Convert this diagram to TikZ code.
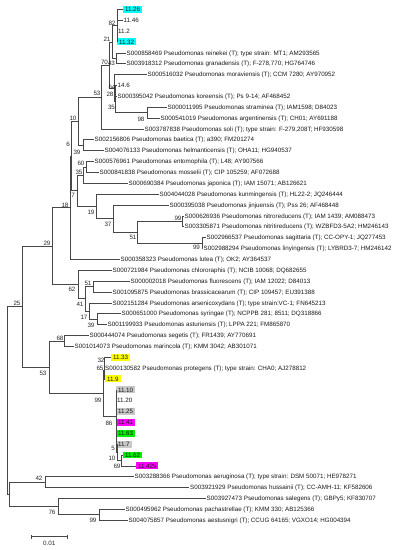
\documentclass[tikz,border=0pt]{standalone}
\usepackage{fontspec}
\setmainfont{Liberation Sans}
\definecolor{hcyan}{HTML}{00FFFF}
\definecolor{hyel}{HTML}{FFFF00}
\definecolor{hgray}{HTML}{C8C8C8}
\definecolor{hmag}{HTML}{FF00FF}
\definecolor{hgrn}{HTML}{00EE00}
\pgfmathdeclarefunction{rw}{1}{\pgfmathparse{9.3+10.87*(#1-1)}}
\tikzset{
  br/.style={draw=black!72, line width=0.55pt},
  lf/.style={anchor=west, inner xsep=1pt, inner ysep=1.2pt, text height=4.5pt, text depth=0pt, text=black!90},
  hl/.style={lf, inner xsep=1.8pt, fill=#1},
  bs/.style={inner sep=0pt, text=black!85},
}
\begin{document}
\begin{tikzpicture}[x=1pt,y=-1pt,font=\fontsize{6.25}{7}\selectfont]
\useasboundingbox (0,0) rectangle (398,550);
% leaves
\node[hl=hcyan] (l1) at (123,{rw(1)}) {11.26};
\node[lf] (l2) at (122.5,{rw(2)}) {11.46};
\node[lf] (l3) at (117,{rw(3)}) {11.2};
\node[hl=hcyan] (l4) at (117,{rw(4)}) {11.32};
\node[lf] (l5) at (125.5,{rw(5)}) {S000858469 Pseudomonas reinekei (T); type strain: MT1; AM293565};
\node[lf] (l6) at (125.5,{rw(6)}) {S003918312 Pseudomonas granadensis (T); F-278,770; HG764746};
\node[lf] (l7) at (146.5,{rw(7)}) {S000516032 Pseudomonas moraviensis (T); CCM 7280; AY970952};
\node[lf] (l8) at (116.5,{rw(8)}) {14.6};
\node[lf] (l9) at (116.5,{rw(9)}) {S000395042 Pseudomonas koreensis (T); Ps 9-14; AF468452};
\node[lf] (l10) at (166.5,{rw(10)}) {S000011995 Pseudomonas straminea (T); IAM1598; D84023};
\node[lf] (l11) at (159.5,{rw(11)}) {S000541019 Pseudomonas argentinensis (T); CH01; AY691188};
\node[lf] (l12) at (143.5,{rw(12)}) {S003787838 Pseudomonas soli (T); type strain: F-279,208T; HF930598};
\node[lf] (l13) at (93.5,{rw(13)}) {S002156806 Pseudomonas baetica (T); a390; FM201274};
\node[lf] (l14) at (103.5,{rw(14)}) {S004076133 Pseudomonas helmanticensis (T); OHA11; HG940537};
\node[lf] (l15) at (93.5,{rw(15)}) {S000576961 Pseudomonas entomophila (T); L48; AY907566};
\node[lf] (l16) at (98.5,{rw(16)}) {S000841838 Pseudomonas mosselii (T); CIP 105259; AF072688};
\node[lf] (l17) at (127.5,{rw(17)}) {S000690384 Pseudomonas japonica (T); IAM 15071; AB126621};
\node[lf] (l18) at (158.5,{rw(18)}) {S004044028 Pseudomonas kunmingensis (T); HL22-2; JQ246444};
\node[lf] (l19) at (168.5,{rw(19)}) {S000395038 Pseudomonas jinjuensis (T); Pss 26; AF468448};
\node[lf] (l20) at (183.5,{rw(20)}) {S000626936 Pseudomonas nitroreducens (T); IAM 1439; AM088473};
\node[lf] (l21) at (183.5,{rw(21)}) {S003305871 Pseudomonas nitritireducens (T); WZBFD3-5A2; HM246143};
\node[lf] (l22) at (205.5,{rw(22)}) {S002966537 Pseudomonas sagittaria (T); CC-OPY-1; JQ277453};
\node[lf] (l23) at (202.5,{rw(23)}) {S002988294 Pseudomonas linyingensis (T); LYBRD3-7; HM246142};
\node[lf] (l24) at (119.5,{rw(24)}) {S000358323 Pseudomonas lutea (T); OK2; AY364537};
\node[lf] (l25) at (111.5,{rw(25)}) {S000721984 Pseudomonas chlororaphis (T); NCIB 10068; DQ682655};
\node[lf] (l26) at (129.5,{rw(26)}) {S000002018 Pseudomonas fluorescens (T); IAM 12022; D84013};
\node[lf] (l27) at (111.5,{rw(27)}) {S001095875 Pseudomonas brassicacearum (T); CIP 109457; EU391388};
\node[lf] (l28) at (111.5,{rw(28)}) {S002151284 Pseudomonas arsenicoxydans (T); type strain:VC-1; FN645213};
\node[lf] (l29) at (120.5,{rw(29)}) {S000651000 Pseudomonas syringae (T); NCPPB 281; 8511; DQ318866};
\node[lf] (l30) at (106.5,{rw(30)}) {S001199933 Pseudomonas asturiensis (T); LPPA 221; FM865870};
\node[lf] (l31) at (88.5,{rw(31)}) {S000444074 Pseudomonas segetis (T); FR1439; AY770691};
\node[lf] (l32) at (73.5,{rw(32)}) {S001014073 Pseudomonas marincola (T); KMM 3042; AB301071};
\node[hl=hyel] (l33) at (111,{rw(33)}) {11.33};
\node[lf] (l34) at (104,{rw(34)}) {S000130582 Pseudomonas protegens (T); type strain: CHA0; AJ278812};
\node[hl=hyel] (l35) at (105,{rw(35)}) {11.9};
\node[hl=hgray] (l36) at (116,{rw(36)}) {11.10};
\node[lf] (l37) at (116,{rw(37)}) {11.20};
\node[hl=hgray] (l38) at (116,{rw(38)}) {11.25};
\node[hl=hmag] (l39) at (116,{rw(39)}) {11.41};
\node[hl=hgrn] (l40) at (116,{rw(40)}) {11.63};
\node[hl=hgray] (l41) at (116,{rw(41)}) {11.7};
\node[hl=hgrn] (l42) at (123,{rw(42)}) {11.62};
\node[hl=hmag] (l43) at (136,{rw(43)}) {11.429};
\node[lf] (l44) at (133.5,{rw(44)}) {S003288366 Pseudomonas aeruginosa (T); type strain: DSM 50071; HE978271};
\node[lf] (l45) at (189,{rw(45)}) {S003921929 Pseudomonas hussainii (T); CC-AMH-11; KF582606};
\node[lf] (l46) at (205.5,{rw(46)}) {S003927473 Pseudomonas salegens (T); GBPy5; KF830707};
\node[lf] (l47) at (124.5,{rw(47)}) {S000495962 Pseudomonas pachastrellae (T); KMM 330; AB125366};
\node[lf] (l48) at (127.5,{rw(48)}) {S004075857 Pseudomonas aestusnigri (T); CCUG 64165; VGXO14; HG004394};
% internal nodes
\coordinate (n82) at (117,25.6);
\coordinate (n43) at (116,58.2);
\coordinate (n21) at (112,41.9);
\coordinate (n64) at (115.5,90.8);
\coordinate (n98) at (147,112.6);
\coordinate (n28) at (115,101.7);
\coordinate (n35a) at (114,88.1);
\coordinate (n70) at (109,65.0);
\coordinate (n53a) at (101.5,96.9);
\coordinate (n39a) at (83,145.2);
\coordinate (n10) at (78,121.05);
\coordinate (n60) at (86,166.9);
\coordinate (n35b) at (83,175.1);
\coordinate (n99a) at (182.5,221.3);
\coordinate (n99b) at (202,243.0);
\coordinate (n51a) at (137,232.15);
\coordinate (n37) at (113,218.6);
\coordinate (n19) at (96,206.3);
\coordinate (n7) at (77,190.7);
\coordinate (n6) at (71,155.9);
\coordinate (n18) at (70,207.6);
\coordinate (n51b) at (93,286.5);
\coordinate (n39b) at (97,319.1);
\coordinate (n17) at (89,310.9);
\coordinate (n41) at (85,298.7);
\coordinate (n62) at (78,284.4);
\coordinate (n29) at (52,246.0);
\coordinate (n68) at (64,340.8);
\coordinate (n32) at (104.5,362.6);
\coordinate (n65) at (104,370.7);
\coordinate (n69) at (121,460.4);
\coordinate (n10b) at (117,452.25);
\coordinate (n5) at (116.5,442.7);
\coordinate (n86) at (116,416.2);
\coordinate (n99c) at (103,393.45);
\coordinate (n53b) at (49,367.1);
\coordinate (n25) at (22,306.55);
\coordinate (n42) at (45,482.1);
\coordinate (n99e) at (99,514.75);
\coordinate (n76) at (58,506.6);
\coordinate (nX) at (9.5,494.35);
\coordinate (root) at (7,400.45);
% branches
\foreach \a/\b in {n82/l1.west,n82/l2.west,n82/l3.west,n82/l4.west,
  n43/l5.west,n43/l6.west,n21/n82,n21/n43,
  n64/l8.west,n64/l9.west,n98/l10.west,n98/l11.west,n28/n64,n28/n98,
  n35a/l7.west,n35a/n28,n70/n21,n70/n35a,n53a/n70,n53a/l12.west,
  n39a/l13.west,n39a/l14.west,n10/n53a,n10/n39a,
  n60/l15.west,n60/l16.west,n35b/n60,n35b/l17.west,
  n99a/l20.west,n99a/l21.west,n99b/l22.west,n99b/l23.west,n51a/n99a,n51a/n99b,
  n37/l19.west,n37/n51a,n19/l18.west,n19/n37,n7/n35b,n7/n19,n6/n10,n6/n7,
  n18/n6,n18/l24.west,
  n51b/l26.west,n51b/l27.west,n39b/l29.west,n39b/l30.west,n17/l28.west,n17/n39b,
  n41/n51b,n41/n17,n62/l25.west,n62/n41,n29/n18,n29/n62,
  n68/l31.west,n68/l32.west,n32/l33.west,n32/l34.west,n65/n32,n65/l35.west,
  n69/l42.west,n69/l43.west,n10b/l41.west,n10b/n69,n5/l40.west,n5/n10b,
  n86/l36.west,n86/l37.west,n86/l38.west,n86/l39.west,n86/n5,
  n99c/n65,n99c/n86,n53b/n68,n53b/n99c,n25/n29,n25/n53b,
  n42/l44.west,n42/l45.west,n99e/l47.west,n99e/l48.west,n76/l46.west,n76/n99e,
  nX/n42,nX/n76,root/n25,root/nX}
  \draw[br] (\a) |- (\b);
% bootstrap values
\node[bs] (b82) at (112,23) {82};
\node[bs] (b21) at (107,39) {21};
\node[bs] (b43) at (111.5,63) {43};
\node[bs] (b70) at (104.5,62) {70};
\node[bs] (b64) at (112,87) {64};
\node[bs] (b28) at (110,94) {28};
\node[bs] (b35a) at (111.5,107.5) {35};
\node[bs] (b98) at (141,119) {98};
\node[bs] (b53a) at (97,93) {53};
\node[bs] (b10) at (73,118) {10};
\node[bs] (b39a) at (77,152) {39};
\node[bs] (b6) at (68,144) {6};
\node[bs] (b60) at (81,163) {60};
\node[bs] (b35b) at (79,172) {35};
\node[bs] (b7) at (73,195) {7};
\node[bs] (b19) at (91,212) {19};
\node[bs] (b37) at (108,224) {37};
\node[bs] (b99a) at (178,218) {99};
\node[bs] (b51a) at (133,237) {51};
\node[bs] (b99b) at (196.5,247.5) {99};
\node[bs] (b18) at (65,205) {18};
\node[bs] (b29) at (47,243) {29};
\node[bs] (b62) at (72,289) {62};
\node[bs] (b51b) at (88,283) {51};
\node[bs] (b41) at (80,304) {41};
\node[bs] (b17) at (84,317) {17};
\node[bs] (b39b) at (91,325) {39};
\node[bs] (b25) at (17,303) {25};
\node[bs] (b68) at (60,338) {68};
\node[bs] (b53b) at (43,373) {53};
\node[bs] (b32) at (101,360) {32};
\node[bs] (b65) at (100,368) {65};
\node[bs] (b99c) at (98,400) {99};
\node[bs] (b86) at (109,423) {86};
\node[bs] (b5) at (113,448) {5};
\node[bs] (b10b) at (112,458) {10};
\node[bs] (b69) at (117,466) {69};
\node[bs] (b42) at (39,478) {42};
\node[bs] (b76) at (52,512) {76};
\node[bs] (b99e) at (93,520) {99};
% scale bar
\coordinate (sb1) at (31,536.7);
\coordinate (sb2) at (67.7,536.7);
\draw[br] (sb1) -- (sb2);
\draw[br] ([yshift=-1.8pt]sb1) -- ([yshift=1.8pt]sb1);
\draw[br] ([yshift=-1.8pt]sb2) -- ([yshift=1.8pt]sb2);
\node[bs] (sbl) at (49.3,543.5) {0.01};
\end{tikzpicture}
\end{document}
